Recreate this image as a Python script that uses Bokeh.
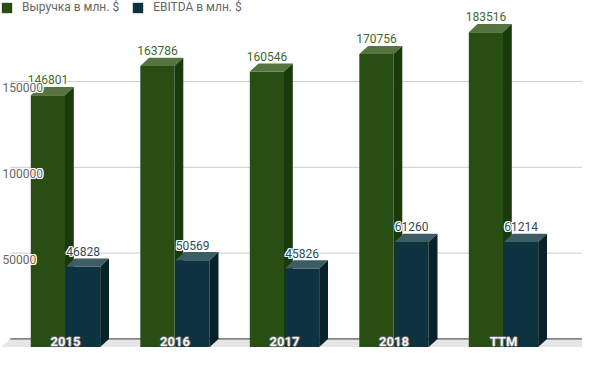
from bokeh.plotting import figure
from bokeh.models import Range1d, Legend, LegendItem, ColumnDataSource
from bokeh.core.properties import value
from bokeh.embed import file_html
from bokeh.resources import INLINE

# ---- data ----
categories = ["2015", "2016", "2017", "2018", "TTM"]
revenue = [146801, 163786, 160546, 170756, 183516]
ebitda = [46828, 50569, 45826, 61260, 61214]
ticks = [50000, 100000, 150000]
series_names = ["Выручка в млн. $", "EBITDA в млн. $"]

# ---- geometry (screen px -> data units) ----
W, H = 582, 349
px_x = 109.5            # px per category
px_per_val = 85.8 / 50000.0
x0 = -65.0 / px_x
y0 = -10.6 / px_per_val
x_end = x0 + W / px_x
y_end = y0 + H / px_per_val

def dxu(px):
    return px / px_x

def dyu(px):
    return px / px_per_val

DX = dxu(8.8)
DY = dyu(8.2)
BW = dxu(34.2)
GAP = dxu(0.5)

p = figure(width=W, height=H, output_backend="svg", toolbar_location=None,
           x_range=Range1d(x0, x_end), y_range=Range1d(y0, y_end),
           min_border=0, outline_line_color=None)
p.axis.visible = False
p.grid.visible = False
p.background_fill_color = "white"

font = value("Roboto")
HALO8 = [(-1, 0), (1, 0), (0, -1), (0, 1), (-1, -1), (1, 1), (-1, 1), (1, -1)]
HALO4 = [(-1, 0), (1, 0), (0, -1), (0, 1)]


def halo_text(src, color, halo, offsets=HALO8, **kw):
    for ox, oy in offsets:
        p.text(x="x", y="y", text="t", source=src, text_color=halo,
               x_offset=ox, y_offset=oy, **kw)
    p.text(x="x", y="y", text="t", source=src, text_color=color, **kw)


# gridlines on back wall
xl = x0 + dxu(9.8)
p.segment(x0=[xl] * len(ticks), y0=ticks, x1=[x_end] * len(ticks), y1=ticks,
          line_color="#cccccc", line_width=1)

# floor
p.patch(x=[xl, x_end + 1, x_end + 1, xl - DX], y=[0, 0, -DY, -DY],
        fill_color="#e6e6e6", line_color=None)
p.segment(x0=[xl], y0=[0], x1=[x_end], y1=[0], line_color="#333333", line_width=1)

colors = [
    dict(front="#284e14", top="#56743f", side="#1a3a0b"),
    dict(front="#0c333f", top="#3d5c63", side="#08222a"),
]
label_colors = ["#3e6a2c", "#2e4a55"]

series = []
for si, vals in enumerate([revenue, ebitda]):
    if si == 0:
        lefts = [i - GAP - BW for i in range(len(categories))]
    else:
        lefts = [i + GAP for i in range(len(categories))]
    series.append((lefts, vals, colors[si]))

legend_r = [None, None]
for i in range(len(categories)):
    for si in range(2):
        lefts, vals, c = series[si]
        L = lefts[i]
        v = vals[i]
        r = p.vbar(x=[L + BW / 2], width=BW, top=[v - DY], bottom=[-DY],
                   fill_color=c["front"], line_color=None)
        if legend_r[si] is None:
            legend_r[si] = r
        p.patch(x=[L, L + BW, L + BW + DX, L + DX], y=[v - DY, v - DY, v, v],
                fill_color=c["top"], line_color=None)
        p.patch(x=[L + BW, L + BW + DX, L + BW + DX, L + BW], y=[-DY, 0, v, v - DY],
                fill_color=c["side"], line_color=None)

# value labels
for si, vals in enumerate([revenue, ebitda]):
    lefts = series[si][0]
    src = ColumnDataSource(dict(x=[L + BW / 2 for L in lefts],
                                y=[v + dyu(2.5) for v in vals],
                                t=[str(v) for v in vals]))
    halo_text(src, label_colors[si], "white", text_font=font,
              text_font_size="12px", text_align="center", text_baseline="bottom")

# y tick labels
src = ColumnDataSource(dict(x=[x0 + dxu(2)] * len(ticks),
                            y=[t - 0.75 * DY for t in ticks],
                            t=[str(t) for t in ticks]))
halo_text(src, "#666666", "white", text_font=font, text_font_size="12px",
          text_align="left", text_baseline="middle")

# category labels
src = ColumnDataSource(dict(x=list(range(len(categories))),
                            y=[-dyu(2.9)] * len(categories), t=categories))
halo_text(src, "#f4f4f4", "#6a6a6a", offsets=HALO4, text_font=font,
          text_font_size="13px", text_font_style="bold", text_align="center",
          text_baseline="middle")

legend = Legend(items=[LegendItem(label=series_names[0], renderers=[legend_r[0]]),
                       LegendItem(label=series_names[1], renderers=[legend_r[1]])],
                location="top_left", orientation="horizontal", margin=0, padding=0,
                spacing=12, glyph_width=13, glyph_height=13, label_height=13,
                label_standoff=9, label_text_font="Roboto", label_text_font_size="12px",
                label_text_color="#666666", border_line_color=None,
                background_fill_alpha=0)
p.add_layout(legend)

open("out.html", "w").write(file_html(p, INLINE))
